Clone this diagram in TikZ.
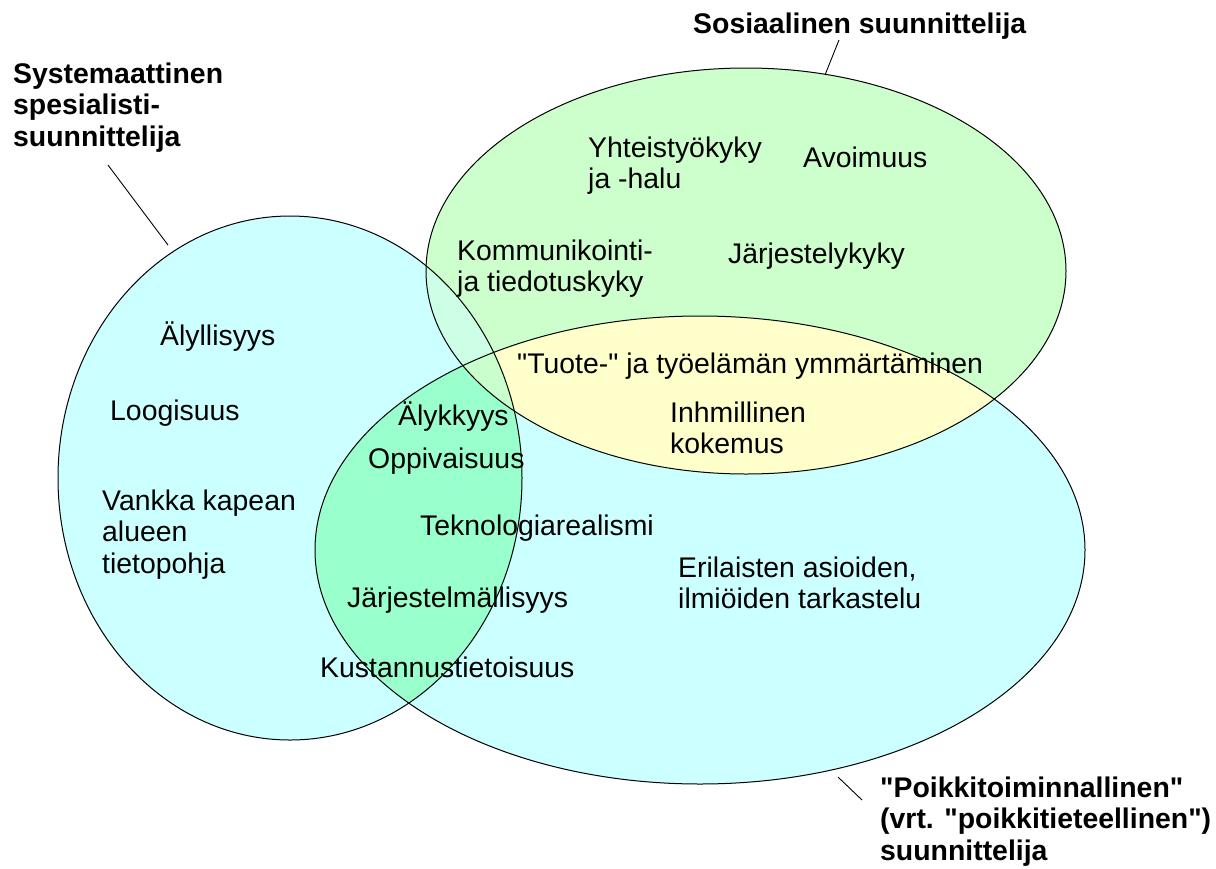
\documentclass[tikz,border=0pt]{standalone}
\usepackage{fontspec}
\setmainfont[Ligatures=TeXOff]{Liberation Sans}
\definecolor{cyanfill}{HTML}{CCFFFF}
\definecolor{greenfill}{HTML}{CCFFCC}
\definecolor{mintfill}{HTML}{99FFCC}
\definecolor{yellowfill}{HTML}{FFFFCC}
\definecolor{paleoverlap}{HTML}{CCFFE6}
\definecolor{triplefill}{HTML}{C8FFCC}
\begin{document}
\begin{tikzpicture}[x=1pt,y=-1pt,
  txt/.style={anchor=base west, inner sep=0pt, align=left, font=\fontsize{28.4}{31.5}\selectfont},
  lbl/.style={anchor=base west, inner sep=0pt, align=left, font=\fontsize{28.4}{31.5}\selectfont\bfseries},
  outline/.style={draw=black, line width=1pt},
  leader/.style={draw=black, line width=0.9pt}]
\useasboundingbox (0,0) rectangle (1216,868);
\def\ellA{(290,478) ellipse [x radius=232pt, y radius=262pt]}
\def\ellB{(746,271) ellipse [x radius=320pt, y radius=203pt]}
\def\ellC{(700,550) ellipse [x radius=385pt, y radius=234pt]}
% base fills
\fill[cyanfill] \ellA;
\fill[cyanfill] \ellC;
\fill[greenfill] \ellB;
% overlaps
\begin{scope}\clip \ellA; \fill[mintfill] \ellC; \end{scope}
\begin{scope}\clip \ellB; \fill[yellowfill] \ellC; \end{scope}
\begin{scope}\clip \ellA; \fill[paleoverlap] \ellB; \end{scope}
\begin{scope}\clip \ellA; \clip \ellB; \fill[triplefill] \ellC; \end{scope}
% outlines
\draw[outline] \ellA;
\draw[outline] \ellB;
\draw[outline] \ellC;
% labels (anchor = baseline of last line)
\node[lbl] (lblA) at (13,146) {Systemaattinen\\spesialisti-\\suunnittelija};
\node[lbl] (lblB) at (693,33) {Sosiaalinen suunnittelija};
\node[lbl] (lblC) at (880,860) {"Poikkitoiminnallinen"\\(vrt. "poikkitieteellinen")\\suunnittelija};
% leader lines
\coordinate (lA1) at (108,165); \coordinate (lA2) at (168,245);
\coordinate (lB1) at (839,40); \coordinate (lB2) at (825,75);
\coordinate (lC1) at (838,777); \coordinate (lC2) at (862,800);
\draw[leader] (lA1) -- (lA2);
\draw[leader] (lB1) -- (lB2);
\draw[leader] (lC1) -- (lC2);
% texts
\node[txt] (t1) at (588,188.5) {Yhteistyökyky\\ja -halu};
\node[txt] (t2) at (803,167) {Avoimuus};
\node[txt] (t3) at (457,291.5) {Kommunikointi-\\ja tiedotuskyky};
\node[txt] (t4) at (728,263) {Järjestelykyky};
\node[txt] (t5) at (160,345) {Älyllisyys};
\node[txt] (t6) at (517,373) {"Tuote-" ja työelämän ymmärtäminen};
\node[txt] (t7) at (110,420) {Loogisuus};
\node[txt] (t8) at (398,425) {Älykkyys};
\node[txt] (t9) at (670,453.5) {Inhmillinen\\kokemus};
\node[txt] (t10) at (368,468) {Oppivaisuus};
\node[txt] (t11) at (102,573) {Vankka kapean\\alueen\\tietopohja};
\node[txt] (t12) at (420,535) {Teknologiarealismi};
\node[txt] (t13) at (678,608.5) {Erilaisten asioiden,\\ilmiöiden tarkastelu};
\node[txt] (t14) at (347,607) {Järjestelmällisyys};
\node[txt] (t15) at (320,677) {Kustannustietoisuus};
\end{tikzpicture}
\end{document}
